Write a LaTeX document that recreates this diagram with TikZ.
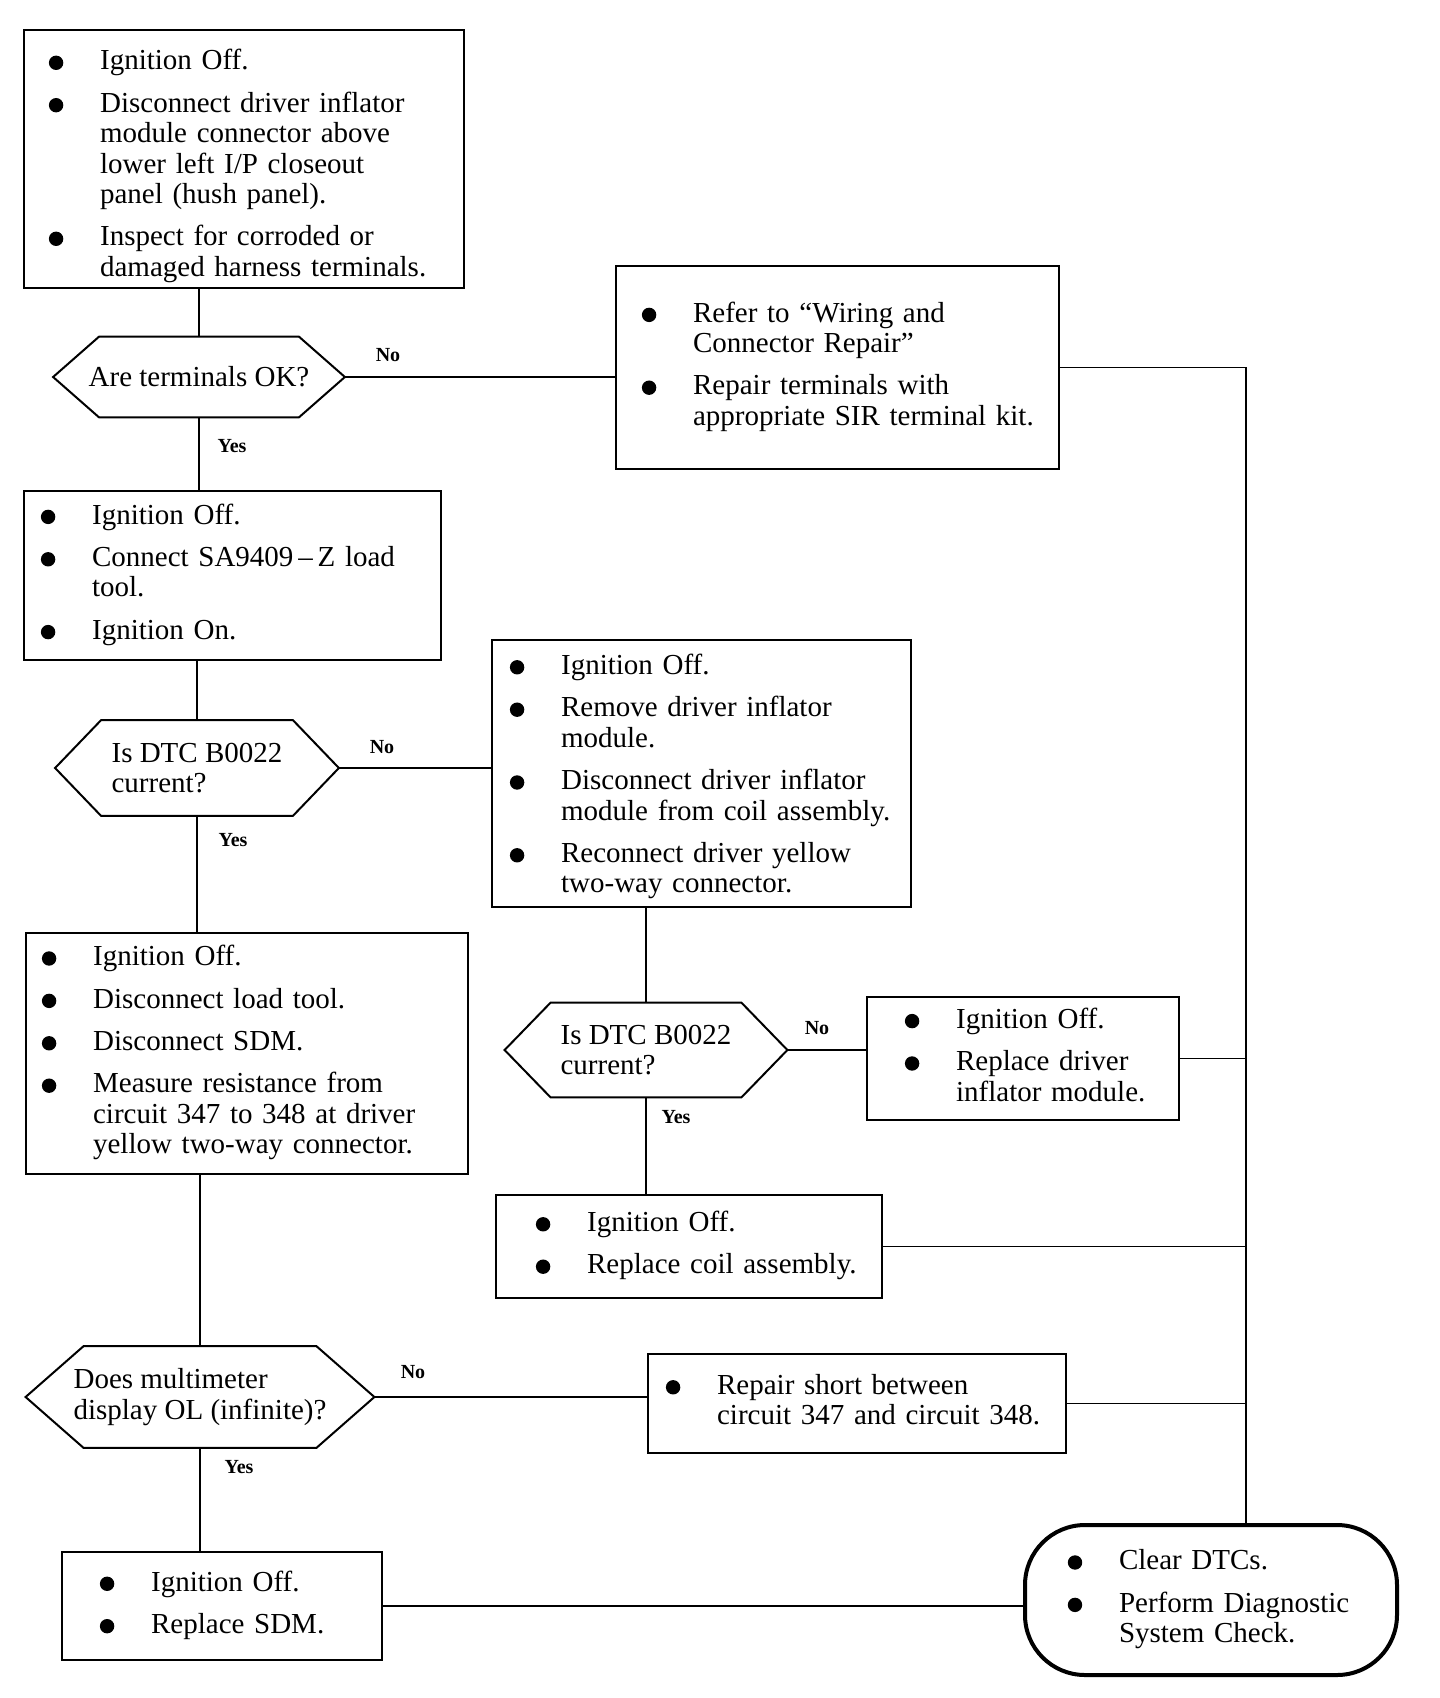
\documentclass[tikz,border=0pt]{standalone}
\usepackage{fontspec}
\setmainfont{Liberation Serif}
\usepackage{array}

\newcommand{\StepFont}{\fontsize{14.5}{15.2}\selectfont}
\newcommand{\LabelFont}{\fontsize{10}{12}\selectfont\bfseries}
\newcommand{\bul}{\makebox[5pt][c]{\tikz[x=1pt, y=1pt, baseline=-3.6pt]\fill (0,0) circle [radius=3.6pt];}}
\newcommand{\gap}{\\\noalign{\vskip 6pt}}
\newcommand{\steplist}[1]{%
  \begin{tabular}{@{}p{24.5pt}@{}>{\raggedright\arraybackslash}p{\dimexpr\linewidth-4.5pt\relax}@{}}#1\end{tabular}}
\newcommand{\lowered}[2]{\raisebox{-#1}[\height][\depth]{#2}}
\newcommand{\hexframe}[2]{%
  \draw[TestLine] (#1.west) -- ([xshift=#2]#1.north west) -- ([xshift=-#2]#1.north east)
    -- (#1.east) -- ([xshift=-#2]#1.south east) -- ([xshift=#2]#1.south west) -- cycle;}

\begin{document}
\begin{tikzpicture}[x = 0.5pt, y = -0.5pt]
	\tikzset{StepStyle/.style =
	{draw,
		line width = 1.1pt,
		anchor = north west,
		inner ysep = 0pt,
		align = left,
		font = \StepFont},
	EndStyle/.style = {StepStyle, rounded corners = 30pt, line width = 2pt},
	TestStyle/.style = {inner sep = 0pt, align = left, font = \StepFont},
	TestLine/.style = {line width = 1pt},
	LinkStyle/.style = {line width = 0.75pt},
	LabelStyle/.style = {inner sep = 0pt, font = \LabelFont}}
\useasboundingbox (0,0) rectangle (1440,1698);

% steps
\node[StepStyle, text width = 193pt, inner xsep = 13.5pt, minimum height = 129pt] (box1) at (23,29)
  {\lowered{4pt}{\steplist{\bul & Ignition Off. \gap
    \bul & Disconnect driver inflator\newline module connector above\newline lower left I/P closeout\newline panel (hush panel). \gap
    \bul & Inspect for corroded or\newline damaged harness terminals.}}};
\node[StepStyle, text width = 193.5pt, inner xsep = 14pt, minimum height = 101.5pt] (box2) at (615,265)
  {\steplist{\bul & Refer to “Wiring and\newline Connector Repair” \gap
    \bul & Repair terminals with\newline appropriate SIR terminal kit.}};
\node[StepStyle, text width = 189.5pt, inner xsep = 9.5pt, minimum height = 84.5pt] (box3) at (23,490)
  {\steplist{\bul & Ignition Off. \gap
    \bul & Connect SA9409\,–\,Z load\newline tool. \gap
    \bul & Ignition On.}};
\node[StepStyle, text width = 189.5pt, inner xsep = 10pt, minimum height = 133.5pt] (box4) at (491,639)
  {\lowered{2pt}{\steplist{\bul & Ignition Off. \gap
    \bul & Remove driver inflator\newline module. \gap
    \bul & Disconnect driver inflator\newline module from coil assembly. \gap
    \bul & Reconnect driver yellow\newline two-way connector.}}};
\node[StepStyle, text width = 203pt, inner xsep = 9pt, minimum height = 120.5pt] (box5) at (25,932)
  {\steplist{\bul & Ignition Off. \gap
    \bul & Disconnect load tool. \gap
    \bul & Disconnect SDM. \gap
    \bul & Measure resistance from\newline circuit 347 to 348 at driver\newline yellow two-way connector.}};
\node[StepStyle, text width = 116pt, inner xsep = 20pt, minimum height = 61.5pt] (box6) at (866,996)
  {\steplist{\bul & Ignition Off. \gap
    \bul & Replace driver\newline inflator module.}};
\node[StepStyle, text width = 151pt, inner xsep = 21pt, minimum height = 51.5pt] (box7) at (495,1194)
  {\steplist{\bul & Ignition Off. \gap
    \bul & Replace coil assembly.}};
\node[StepStyle, text width = 189pt, inner xsep = 10pt, minimum height = 49.5pt] (box8) at (647,1353)
  {\steplist{\bul & Repair short between\newline circuit 347 and circuit 348.}};
\node[StepStyle, text width = 120pt, inner xsep = 20pt, minimum height = 54pt] (box9) at (61,1551)
  {\steplist{\bul & Ignition Off. \gap
    \bul & Replace SDM.}};
\node[EndStyle, text width = 141pt, inner xsep = 22.5pt, minimum height = 75pt] (term) at (1023,1523)
  {\steplist{\bul & Clear DTCs. \gap
    \bul & Perform Diagnostic\newline System Check.}};

% tests
\node[TestStyle, minimum width = 145.5pt, minimum height = 40pt] (hex1) at (199,377) {Are terminals OK?};
\node[TestStyle, minimum width = 141.5pt, minimum height = 47.5pt] (hex2) at (197,768) {Is DTC B0022\\current?};
\node[TestStyle, minimum width = 141pt, minimum height = 47pt] (hex3) at (646,1050) {Is DTC B0022\\current?};
\node[TestStyle, minimum width = 174pt, minimum height = 50.5pt] (hex4) at (200,1397) {Does multimeter\\display OL (infinite)?};
\hexframe{hex1}{23pt}
\hexframe{hex2}{23pt}
\hexframe{hex3}{23pt}
\hexframe{hex4}{29pt}

% answers
\node[LabelStyle] (no1) at (388,355) {No};
\node[LabelStyle] (yes1) at (232,446) {Yes};
\node[LabelStyle] (no2) at (382,747) {No};
\node[LabelStyle] (yes2) at (233,840) {Yes};
\node[LabelStyle] (no3) at (817,1028) {No};
\node[LabelStyle] (yes3) at (676,1117) {Yes};
\node[LabelStyle] (no4) at (413,1372) {No};
\node[LabelStyle] (yes4) at (239,1467) {Yes};

\coordinate (rail) at (1246,0);

\draw[LinkStyle] (hex1.north |- box1.south) -- (hex1.north);
\draw[LinkStyle] (hex1.south) -- (hex1.south |- box3.north);
\draw[LinkStyle] (hex1.east) -- (hex1.east -| box2.west);
\draw[LinkStyle] (hex2.north |- box3.south) -- (hex2.north);
\draw[LinkStyle] (hex2.east) -- (hex2.east -| box4.west);
\draw[LinkStyle] (hex2.south) -- (hex2.south |- box5.north);
\draw[LinkStyle] (hex3.north |- box4.south) -- (hex3.north);
\draw[LinkStyle] (hex3.east) -- (hex3.east -| box6.west);
\draw[LinkStyle] (hex3.south) -- (hex3.south |- box7.north);
\draw[LinkStyle] (hex4.north |- box5.south) -- (hex4.north);
\draw[LinkStyle] (hex4.east) -- (hex4.east -| box8.west);
\draw[LinkStyle] (hex4.south) -- (hex4.south |- box9.north);
\draw[LinkStyle] (box9.east) -- (box9.east -| term.west);
\draw[LinkStyle] (box2.east) -- (box2.east -| rail) -- (rail |- term.north);
\foreach \n in {box6,box7,box8}
  \draw[LinkStyle] (\n.east) -- (\n.east -| rail);

\end{tikzpicture}
\end{document}
